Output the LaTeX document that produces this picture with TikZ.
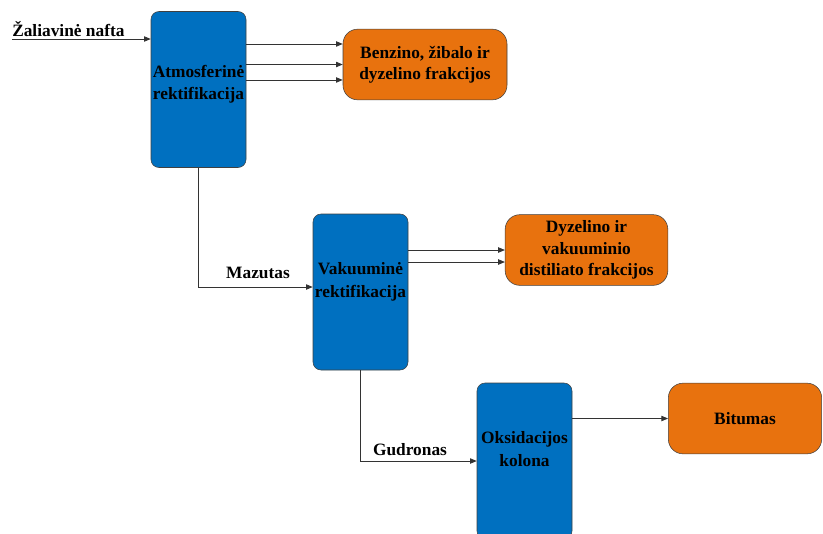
\documentclass[tikz,border=0pt]{standalone}
\usepackage{fontspec}
\setmainfont{Liberation Serif}
\usetikzlibrary{arrows.meta}
\definecolor{kolbl}{RGB}{0,112,192}
\definecolor{prodor}{RGB}{232,114,14}
\tikzset{
	colbox/.style={draw=black!75,fill=kolbl,rounded corners=6pt,minimum width=71.25pt,minimum height=117pt,inner sep=0pt},
	prodbox/.style={draw=black!75,fill=prodor,rounded corners=11pt,minimum width=123pt,minimum height=53pt,align=center,inner sep=0pt,font=\fontsize{13}{16}\selectfont\bfseries},
	lbl/.style={align=center,font=\fontsize{13}{17}\selectfont\bfseries,inner sep=0pt},
	flow/.style={draw=black!80,line width=0.6pt,-{Triangle[length=5pt,width=4pt]}}
}
\begin{document}
\begin{tikzpicture}[x=0.75pt,y=-0.75pt]
	\clip (0,0) rectangle (823,533);
	\useasboundingbox (0,0) rectangle (823,533);

	\node[colbox,label={[lbl,yshift=4pt]center:Atmosferinė\\rektifikacija}] (atm) at (198.5,89.5) {};
	\node[colbox,label={[lbl,yshift=7.5pt]center:Vakuuminė\\rektifikacija}] (vak) at (360.5,292) {};
	\node[colbox,label={[lbl,yshift=9pt]center:Oksidacijos\\kolona}] (oks) at (524.5,461) {};

	\node[prodbox] (ben) at (425,64.5) {Benzino, žibalo ir\\dyzelino frakcijos};
	\node[prodbox,minimum width=122pt] (dyz) at (586.5,250) {Dyzelino ir\\vakuuminio\\distiliato frakcijos};
	\node[prodbox,minimum width=115pt] (bit) at (745,418.5) {Bitumas};

	\coordinate (in) at (12,39);
	\node[lbl,anchor=west] (nafta) at (12,29) {Žaliavinė nafta};
	\draw[flow] (in) -- (in -| atm.west);

	\foreach \s in {15.4,0,-11.6}
		\draw[flow] ([yshift=\s pt]ben.west -| atm.east) -- ([yshift=\s pt]ben.west);

	\draw[flow] (atm.south) |- ([yshift=3.75pt]vak.west);
	\node[lbl] (maz) at (258,273) {Mazutas};

	\foreach \s in {0,-9}
		\draw[flow] ([yshift=\s pt]dyz.west -| vak.east) -- ([yshift=\s pt]dyz.west);

	\draw[flow] (vak.south) |- (oks.west);
	\node[lbl] (gud) at (410,450) {Gudronas};

	\draw[flow] (bit.west -| oks.east) -- (bit.west);
\end{tikzpicture}
\end{document}
